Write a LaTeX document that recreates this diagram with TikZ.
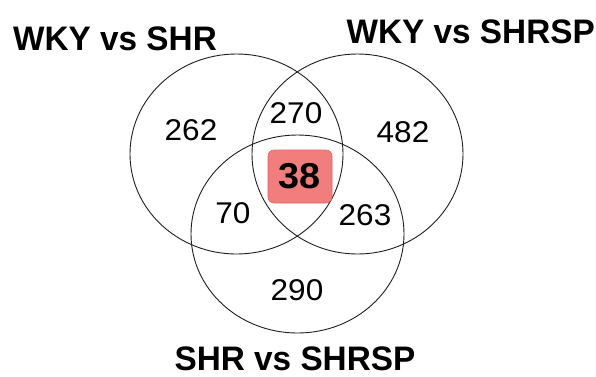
\documentclass[tikz,border=0pt]{standalone}
\usepackage{fontspec}
\setmainfont{Liberation Sans}
\newfontfamily\numfont[FakeStretch=1.05]{Liberation Sans}
\newfontfamily\titlefont[FakeStretch=0.98]{Liberation Sans}
\usetikzlibrary{shapes.geometric}
\definecolor{boxfill}{RGB}{242,125,125}
\definecolor{boxline}{RGB}{220,100,100}
\definecolor{ringcol}{RGB}{30,30,30}
\begin{document}
\begin{tikzpicture}[x=1pt,y=-1pt,
  ring/.style={draw=ringcol, line width=0.9pt, ellipse, inner sep=0pt, minimum width=213pt, minimum height=200pt},
  num/.style={inner sep=0pt, font=\numfont\fontsize{30}{35}\selectfont},
  title/.style={inner sep=0pt, font=\titlefont\bfseries\fontsize{34}{40}\selectfont},
  core/.style={draw=boxline, fill=boxfill, line width=0.6pt, rounded corners=6pt, minimum width=64pt, minimum height=53pt, inner sep=0pt, font=\numfont\bfseries\fontsize{36}{42}\selectfont}]
\useasboundingbox (0,0) rectangle (596,376);
\node[ring] (A) at (236.5,154) {};
\node[ring, minimum width=211pt] (B) at (357.5,154) {};
\node[ring, minimum height=198pt] (C) at (297.5,234) {};
\node[core] (core) at (300,176.5) {38};
\node[num] (n262) at (191,130) {262};
\node[num] (n270) at (296,113.5) {270};
\node[num] (n482) at (403,132) {482};
\node[num] (n70) at (233,213.5) {70};
\node[num] (n263) at (365,215) {263};
\node[num] (n290) at (297,290.5) {290};
\node[title, anchor=base west] (tA) at (13,50) {WKY vs SHR};
\node[title, anchor=base east] (tB) at (595,43) {WKY vs SHRSP};
\node[title, anchor=base] (tC) at (295,370) {SHR vs SHRSP};
\end{tikzpicture}
\end{document}
